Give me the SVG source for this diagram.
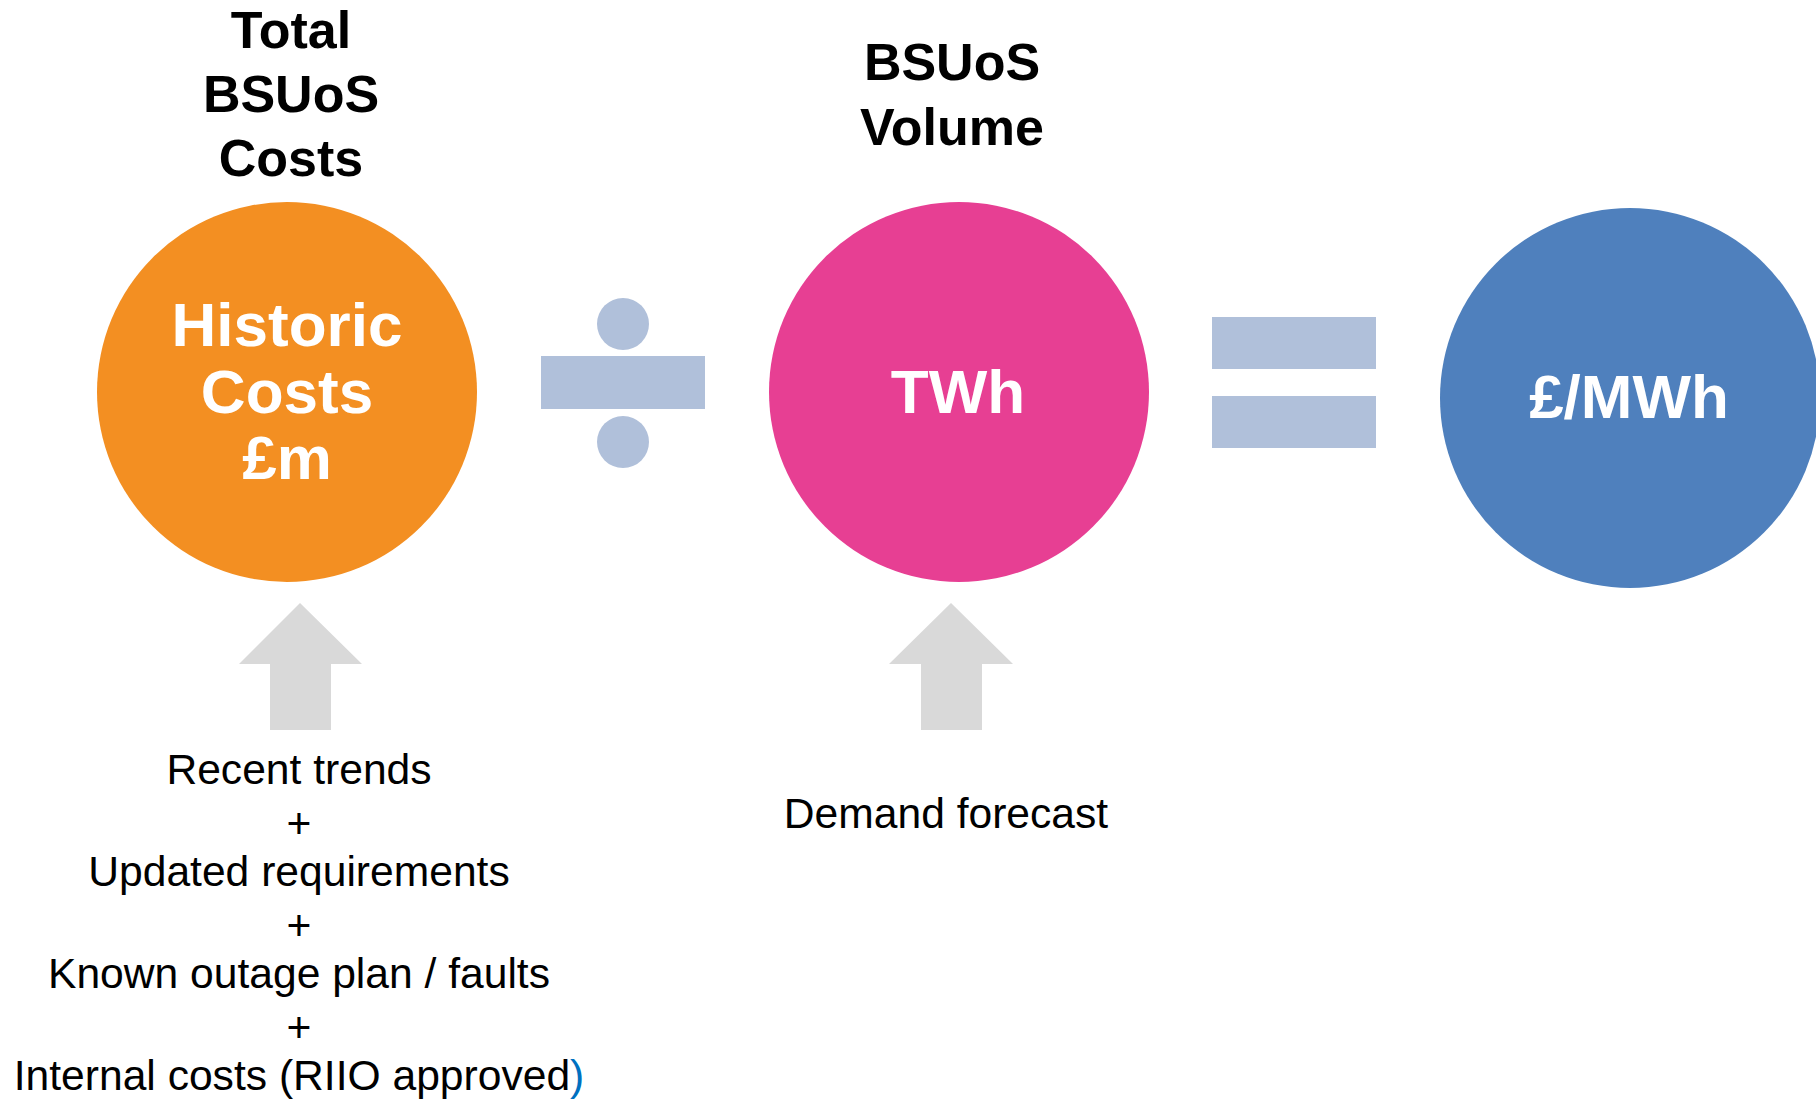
<svg xmlns="http://www.w3.org/2000/svg" width="1816" height="1099" viewBox="0 0 1816 1099">
<style>
.title{font-family:"Liberation Sans",Arial,sans-serif;font-weight:bold;font-size:52px;fill:#000;text-anchor:middle}
.inner{font-family:"Liberation Sans",Arial,sans-serif;font-weight:bold;font-size:62px;fill:#fff;text-anchor:middle}
.note{font-family:"Liberation Sans",Arial,sans-serif;font-size:42.6px;fill:#000;text-anchor:middle}
.op{fill:#B0C0DA}
.arrow{fill:#D9D9D9}
</style>
<rect width="1816" height="1099" fill="#fff"/>
<g id="costs">
<text class="title" x="291" y="48">Total</text>
<text class="title" x="291" y="112">BSUoS</text>
<text class="title" x="291" y="176">Costs</text>
<circle cx="287" cy="392" r="190" fill="#F38F22"/>
<text class="inner" x="287" y="346">Historic</text>
<text class="inner" x="287" y="413">Costs</text>
<text class="inner" x="287" y="479">£m</text>
</g>
<g id="divide">
<circle class="op" cx="623" cy="324" r="26"/>
<rect class="op" x="541" y="356" width="164" height="53"/>
<circle class="op" cx="623" cy="442" r="26"/>
</g>
<g id="volume">
<text class="title" x="952" y="80">BSUoS</text>
<text class="title" x="952" y="145">Volume</text>
<circle cx="959" cy="392" r="190" fill="#E73F93"/>
<text class="inner" x="958" y="413">TWh</text>
</g>
<g id="equals">
<rect class="op" x="1212" y="317" width="164" height="52"/>
<rect class="op" x="1212" y="396" width="164" height="52"/>
</g>
<g id="result">
<circle cx="1630" cy="398" r="190" fill="#4F80BD"/>
<text class="inner" x="1629" y="418">£/MWh</text>
</g>
<g id="connectors">
<polygon class="arrow" points="300,603 362,664 331,664 331,730 270,730 270,664 239,664"/>
<polygon class="arrow" points="951,603 1013,664 982,664 982,730 921,730 921,664 889,664"/>
</g>
<g id="cost-inputs">
<text class="note" x="299" y="784">Recent trends</text>
<text class="note" x="299" y="838">+</text>
<text class="note" x="299" y="886">Updated requirements</text>
<text class="note" x="299" y="940">+</text>
<text class="note" x="299" y="988">Known outage plan / faults</text>
<text class="note" x="299" y="1042">+</text>
<text class="note" x="299" y="1090">Internal costs (RIIO approved<tspan fill="#0070C0">)</tspan></text>
</g>
<g id="volume-inputs">
<text class="note" x="946" y="828">Demand forecast</text>
</g>
</svg>
